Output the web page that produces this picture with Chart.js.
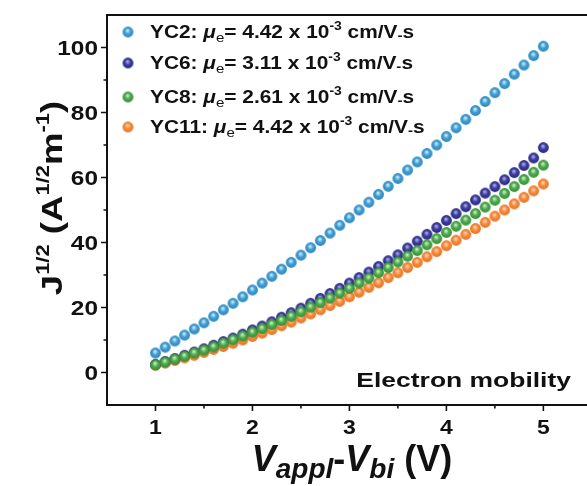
<!DOCTYPE html>
<html>
<head>
<meta charset="utf-8">
<script src="https://cdn.jsdelivr.net/npm/chart.js@4.4.1/dist/chart.umd.min.js"></script>
<style>
    html, body { margin: 0; padding: 0; background: #fff; }
    #wrap { width: 587px; height: 486px; position: relative; }
</style>
</head>
<body>
<div id="wrap"><canvas id="mobilityChart"></canvas></div>
<script>
// Voltage sweep (V_appl - V_bi), 0.1 V step
const voltage = [1.0, 1.1, 1.2, 1.3, 1.4, 1.5, 1.6, 1.7, 1.8, 1.9, 2.0, 2.1, 2.2, 2.3, 2.4, 2.5, 2.6, 2.7, 2.8, 2.9, 3.0,
                 3.1, 3.2, 3.3, 3.4, 3.5, 3.6, 3.7, 3.8, 3.9, 4.0, 4.1, 4.2, 4.3, 4.4, 4.5, 4.6, 4.7, 4.8, 4.9, 5.0];

// J^1/2 for each device
const yc2 = [6.0, 7.8, 9.7, 11.5, 13.4, 15.3, 17.3, 19.3, 21.3, 23.3, 25.4, 27.5, 29.6, 31.8, 33.9, 36.1, 38.4, 40.6, 42.9, 45.3, 47.6,
             50.0, 52.4, 54.8, 57.3, 59.7, 62.3, 64.8, 67.4, 70.0, 72.6, 75.3, 77.9, 80.6, 83.4, 86.1, 88.9, 91.8, 94.6, 97.5, 100.4];
const yc6 = [2.5, 3.4, 4.3, 5.3, 6.3, 7.3, 8.4, 9.5, 10.6, 11.8, 13.1, 14.3, 15.6, 17.0, 18.4, 19.8, 21.3, 22.8, 24.3, 25.9, 27.5,
             29.2, 30.9, 32.6, 34.4, 36.2, 38.3, 40.4, 42.5, 44.6, 46.8, 48.9, 51.0, 53.1, 55.2, 57.2, 59.3, 61.5, 63.7, 66.0, 69.2];
const yc8 = [2.4, 3.2, 4.1, 5.0, 6.0, 6.9, 7.9, 9.0, 10.1, 11.2, 12.4, 13.5, 14.8, 16.0, 17.3, 18.7, 20.1, 21.5, 22.9, 24.4, 25.9,
             27.5, 29.0, 30.7, 32.3, 34.0, 35.8, 37.5, 39.3, 41.2, 43.1, 45.0, 46.9, 48.9, 50.9, 53.0, 55.1, 57.2, 59.4, 61.6, 63.8];
const yc11 = [2.2, 2.9, 3.7, 4.5, 5.3, 6.2, 7.1, 8.0, 9.0, 10.0, 11.1, 12.1, 13.2, 14.4, 15.5, 16.8, 18.0, 19.3, 20.6, 21.9, 23.3,
              24.7, 26.2, 27.6, 29.2, 30.7, 32.3, 33.9, 35.6, 37.2, 39.0, 40.7, 42.5, 44.3, 46.2, 48.1, 50.0, 51.9, 53.9, 55.9, 58.0];

const deviceNames = ['YC2', 'YC6', 'YC8', 'YC11'];
const mobilities = ['4.42', '3.11', '2.61', '4.42'];

const xTicks = [1, 2, 3, 4, 5];
const xMinorTicks = [1.5, 2.5, 3.5, 4.5];
const yTicks = [0, 20, 40, 60, 80, 100];
const yMinorTicks = [10, 30, 50, 70, 90];

const FONT = '"Liberation Sans", Arial, sans-serif';

// shaded ball used as point marker
function makeSphere(base, light, dark, r) {
    const c = document.createElement('canvas');
    const s = Math.ceil(r * 2 + 2);
    c.width = c.height = s;
    const g = c.getContext('2d');
    const cx = s / 2, cy = s / 2;
    const grad = g.createRadialGradient(cx - r * 0.1, cy - r * 0.3, r * 0.05, cx, cy, r);
    grad.addColorStop(0, light);
    grad.addColorStop(0.5, base);
    grad.addColorStop(1, dark);
    g.fillStyle = grad;
    g.beginPath();
    g.arc(cx, cy, r, 0, Math.PI * 2);
    g.fill();
    return c;
}

const markers = [
    makeSphere('#409fd4', '#d6eefa', '#2e86bb', 5.4),
    makeSphere('#3d3c9e', '#b3b1ec', '#2b2a7e', 5.4),
    makeSphere('#50aa4e', '#d3f0cf', '#339035', 5.4),
    makeSphere('#f78b3c', '#fdd9b8', '#e47322', 5.4)
];

const seriesValues = [yc2, yc6, yc8, yc11];
// green on top, blue at the back
const drawOrder = [3, 1, 0, 2];

// text made of runs with different fonts / offsets (sub- and superscripts)
function drawRuns(ctx, runs, x, y, align, stretch) {
    ctx.save();
    ctx.translate(x, y);
    ctx.scale(stretch, 1);
    let total = 0;
    runs.forEach(r => { ctx.font = r.font; total += ctx.measureText(r.text).width; });
    let cx = align === 'center' ? -total / 2 : (align === 'right' ? -total : 0);
    ctx.textBaseline = 'alphabetic';
    ctx.textAlign = 'left';
    runs.forEach(r => {
        ctx.font = r.font;
        ctx.fillText(r.text, cx, r.dy || 0);
        cx += ctx.measureText(r.text).width;
    });
    ctx.restore();
}

const overlay = {
    id: 'overlay',
    afterDraw(chart) {
        const { ctx, chartArea, scales } = chart;
        const xs = scales.x, ys = scales.y;
        ctx.save();
        ctx.strokeStyle = '#111';
        ctx.fillStyle = '#111';
        ctx.lineWidth = 2;

        // top frame line
        ctx.beginPath();
        ctx.moveTo(chartArea.left - 1, chartArea.top);
        ctx.lineTo(chartArea.right, chartArea.top);
        ctx.stroke();

        // tick marks (outward)
        ctx.lineWidth = 1.6;
        ctx.beginPath();
        xTicks.forEach(v => { const p = xs.getPixelForValue(v); ctx.moveTo(p, chartArea.bottom); ctx.lineTo(p, chartArea.bottom + 6); });
        xMinorTicks.forEach(v => { const p = xs.getPixelForValue(v); ctx.moveTo(p, chartArea.bottom); ctx.lineTo(p, chartArea.bottom + 3.5); });
        yTicks.forEach(v => { const p = ys.getPixelForValue(v); ctx.moveTo(chartArea.left, p); ctx.lineTo(chartArea.left - 6, p); });
        yMinorTicks.forEach(v => { const p = ys.getPixelForValue(v); ctx.moveTo(chartArea.left, p); ctx.lineTo(chartArea.left - 3.5, p); });
        ctx.stroke();

        // tick labels
        const tickFont = 'bold 20px ' + FONT;
        xTicks.forEach(v => drawRuns(ctx, [{ text: String(v), font: tickFont }], xs.getPixelForValue(v), chartArea.bottom + 29, 'center', 1.15));
        yTicks.forEach(v => drawRuns(ctx, [{ text: String(v), font: tickFont }], chartArea.left - 9, ys.getPixelForValue(v) + 7, 'right', 1.22));

        // x axis title
        const bigIt = 'italic bold 36px ' + FONT;
        const subIt = 'italic bold 28px ' + FONT;
        const big = 'bold 36px ' + FONT;
        drawRuns(ctx, [
            { text: 'V', font: bigIt },
            { text: 'appl', font: subIt, dy: 7 },
            { text: '-', font: big },
            { text: 'V', font: bigIt },
            { text: 'bi', font: subIt, dy: 7 },
            { text: ' (V)', font: big }
        ], 352, 471, 'center', 1.0);

        // y axis title (rotated)
        ctx.save();
        ctx.translate(62, 198);
        ctx.rotate(-Math.PI / 2);
        const yt = 'bold 30px ' + FONT;
        const ys2 = 'bold 18px ' + FONT;
        drawRuns(ctx, [
            { text: 'J', font: yt },
            { text: '1/2', font: ys2, dy: -13 },
            { text: ' (A', font: yt },
            { text: '1/2', font: ys2, dy: -13 },
            { text: 'm', font: yt },
            { text: '-1', font: ys2, dy: -13 },
            { text: ')', font: yt }
        ], 0, 0, 'center', 1.22);
        ctx.restore();

        // legend
        const rowY = [32, 63, 97, 127];
        const lf = 'bold 18px ' + FONT;
        deviceNames.forEach((name, i) => {
            const m = markers[i];
            ctx.drawImage(m, 128 - m.width / 2, rowY[i] - m.height / 2);
            drawRuns(ctx, [
                { text: name + ': ', font: lf },
                { text: '\u03bc', font: 'italic bold 18px ' + FONT },
                { text: 'e', font: '13px ' + FONT, dy: 4 },
                { text: '= ' + mobilities[i] + ' x 10', font: lf },
                { text: '-3', font: 'bold 12px ' + FONT, dy: -8 },
                { text: ' cm/V', font: lf },
                { text: '-', font: 'bold 13px ' + FONT, dy: 2 },
                { text: 's', font: lf }
            ], 150, rowY[i] + 6, 'left', 1.16);
        });

        // panel label
        drawRuns(ctx, [{ text: 'Electron mobility', font: 'bold 21px ' + FONT }], 571, 387, 'right', 1.26);

        ctx.restore();
    }
};

const datasets = deviceNames.map((name, i) => ({
    label: name,
    data: voltage.map((v, k) => ({ x: v, y: seriesValues[i][k] })),
    pointStyle: markers[i],
    pointRadius: 5,
    showLine: false,
    order: drawOrder[i]
}));

new Chart(document.getElementById('mobilityChart'), {
    type: 'scatter',
    data: { datasets: datasets },
    options: {
        responsive: true,
        maintainAspectRatio: false,
        animation: false,
        layout: { autoPadding: false, padding: { top: 15, right: 0, left: 0, bottom: 0 } },
        plugins: {
            legend: { display: false },
            tooltip: { enabled: false }
        },
        scales: {
            x: {
                type: 'linear',
                min: 0.5,
                max: 5.45,
                grid: { display: false, drawTicks: false },
                border: { display: true, color: '#111', width: 2 },
                ticks: { display: false },
                afterFit: (s) => { s.height = 81; }
            },
            y: {
                type: 'linear',
                min: -10,
                max: 110,
                grid: { display: false, drawTicks: false },
                border: { display: true, color: '#111', width: 2 },
                ticks: { display: false },
                afterFit: (s) => { s.width = 107; }
            }
        }
    },
    plugins: [overlay]
});
</script>
</body>
</html>
